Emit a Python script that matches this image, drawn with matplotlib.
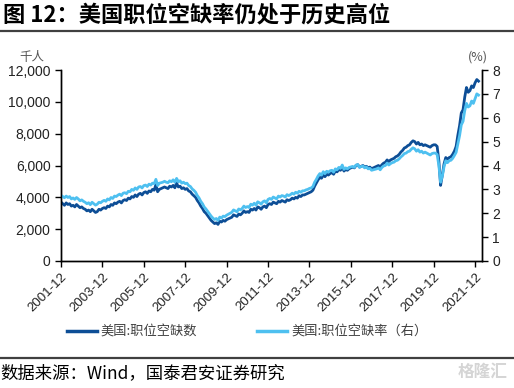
import numpy as np
import matplotlib
matplotlib.use("Agg")
import matplotlib.pyplot as plt

plt.rcParams['font.family'] = ['Liberation Sans', 'Noto Sans CJK SC', 'DejaVu Sans']
CJK = ['Noto Sans CJK SC', 'DejaVu Sans']

# monthly data, 2001-12 .. 2022-02
# job openings, thousands (left axis)
openings_by_year = {
    2001: [3700],
    2002: [3600, 3500, 3650, 3550, 3600, 3450, 3500, 3400, 3550, 3450, 3350, 3400],
    2003: [3300, 3250, 3150, 3200, 3100, 3250, 3150, 3050, 3100, 3250, 3200, 3300],
    2004: [3350, 3300, 3450, 3400, 3550, 3500, 3650, 3600, 3700, 3750, 3650, 3800],
    2005: [3850, 3800, 3950, 3900, 4050, 4000, 4150, 4050, 4200, 4250, 4150, 4300],
    2006: [4350, 4250, 4400, 4350, 4500, 4450, 4800, 4350, 4500, 4550, 4600, 4650],
    2007: [4600, 4550, 4700, 4650, 4750, 4600, 4900, 4650, 4700, 4550, 4600, 4500],
    2008: [4550, 4400, 4350, 4200, 4100, 4000, 3800, 3650, 3450, 3300, 3100, 3000],
    2009: [2850, 2700, 2550, 2450, 2350, 2400, 2300, 2500, 2450, 2550, 2500, 2600],
    2010: [2650, 2700, 2750, 2900, 2850, 2800, 2950, 2900, 3000, 3150, 3050, 3100],
    2011: [3050, 3250, 3200, 3300, 3200, 3400, 3350, 3250, 3400, 3450, 3350, 3550],
    2012: [3600, 3550, 3700, 3650, 3600, 3750, 3700, 3800, 3750, 3700, 3850, 3800],
    2013: [3850, 3950, 3900, 4000, 3950, 4100, 4050, 4150, 4150, 4200, 4250, 4300],
    2014: [4350, 4450, 4700, 4900, 5100, 5250, 5200, 5400, 5300, 5450, 5400, 5500],
    2015: [5550, 5450, 5650, 5600, 5750, 5700, 5900, 5650, 5750, 5700, 5800, 5850],
    2016: [5900, 5850, 6000, 6050, 5900, 5950, 6000, 5900, 5950, 5850, 5900, 5800],
    2017: [5850, 5900, 5950, 6000, 5900, 6050, 6150, 6200, 6350, 6250, 6350, 6400],
    2018: [6450, 6550, 6600, 6700, 6850, 6950, 7100, 7150, 7250, 7300, 7450, 7550],
    2019: [7500, 7350, 7450, 7300, 7350, 7250, 7300, 7250, 7200, 7150, 7250, 7300],
    2020: [7300, 7200, 6300, 4750, 5400, 6100, 6500, 6400, 6500, 6550, 6700, 6900],
    2021: [7200, 7900, 8500, 9300, 9500, 10300, 10900, 10600, 10700, 11000, 10900, 11200],
    2022: [11400, 11300],
}

# job openings rate, % (right axis)
rate_by_year = {
    2001: [2.75],
    2002: [2.70, 2.65, 2.72, 2.66, 2.70, 2.60, 2.64, 2.58, 2.66, 2.60, 2.52, 2.56],
    2003: [2.50, 2.46, 2.40, 2.44, 2.36, 2.46, 2.40, 2.34, 2.38, 2.46, 2.44, 2.50],
    2004: [2.54, 2.50, 2.60, 2.56, 2.66, 2.62, 2.72, 2.70, 2.76, 2.80, 2.74, 2.84],
    2005: [2.86, 2.82, 2.92, 2.90, 3.00, 2.96, 3.06, 3.00, 3.10, 3.12, 3.06, 3.16],
    2006: [3.18, 3.12, 3.22, 3.18, 3.26, 3.24, 3.42, 3.16, 3.26, 3.28, 3.30, 3.34],
    2007: [3.30, 3.28, 3.36, 3.32, 3.40, 3.30, 3.46, 3.32, 3.36, 3.26, 3.30, 3.24],
    2008: [3.26, 3.16, 3.12, 3.02, 2.96, 2.88, 2.74, 2.64, 2.50, 2.40, 2.26, 2.18],
    2009: [2.08, 1.98, 1.88, 1.80, 1.74, 1.78, 1.70, 1.84, 1.80, 1.88, 1.86, 1.92],
    2010: [1.96, 2.00, 2.04, 2.14, 2.10, 2.06, 2.18, 2.14, 2.20, 2.30, 2.24, 2.28],
    2011: [2.24, 2.38, 2.34, 2.42, 2.34, 2.48, 2.44, 2.38, 2.48, 2.52, 2.44, 2.58],
    2012: [2.62, 2.58, 2.68, 2.64, 2.60, 2.72, 2.68, 2.74, 2.72, 2.68, 2.78, 2.74],
    2013: [2.78, 2.84, 2.80, 2.88, 2.84, 2.92, 2.88, 2.94, 2.94, 2.98, 3.00, 3.04],
    2014: [3.06, 3.12, 3.30, 3.42, 3.56, 3.66, 3.60, 3.74, 3.66, 3.76, 3.72, 3.78],
    2015: [3.80, 3.72, 3.86, 3.82, 3.92, 3.88, 4.02, 3.84, 3.90, 3.86, 3.92, 3.94],
    2016: [3.96, 3.92, 4.02, 4.04, 3.92, 3.96, 3.98, 3.90, 3.94, 3.86, 3.88, 3.80],
    2017: [3.82, 3.84, 3.86, 3.90, 3.82, 3.92, 3.98, 4.00, 4.10, 4.02, 4.08, 4.12],
    2018: [4.14, 4.20, 4.22, 4.28, 4.36, 4.42, 4.50, 4.52, 4.58, 4.60, 4.68, 4.74],
    2019: [4.70, 4.60, 4.66, 4.56, 4.60, 4.52, 4.56, 4.52, 4.48, 4.44, 4.50, 4.52],
    2020: [4.52, 4.46, 4.00, 3.30, 3.55, 3.95, 4.20, 4.12, 4.20, 4.22, 4.30, 4.42],
    2021: [4.55, 4.90, 5.25, 5.70, 5.85, 6.30, 6.60, 6.45, 6.50, 6.70, 6.60, 6.80],
    2022: [7.00, 6.95],
}

xtick_labels = ["2001-12", "2003-12", "2005-12", "2007-12", "2009-12", "2011-12",
                "2013-12", "2015-12", "2017-12", "2019-12", "2021-12"]

openings = np.concatenate([openings_by_year[y] for y in sorted(openings_by_year)])
rate = np.concatenate([rate_by_year[y] for y in sorted(rate_by_year)])
months = np.arange(len(openings))

dark = '#0d4e96'
light = '#4ec0f0'

fig = plt.figure(figsize=(5.14, 3.88), dpi=100)
ax = fig.add_axes([61 / 514, 1 - 261 / 388, (482 - 61) / 514, (261 - 70) / 388])
ax2 = ax.twinx()

l1, = ax.plot(months, openings, color=dark, lw=2.0, label='美国:职位空缺数')
l2, = ax2.plot(months, rate, color=light, lw=2.0, label='美国:职位空缺率（右）')

ax.set_xlim(0, 244)
ax.set_ylim(0, 12000)
ax2.set_ylim(0, 8)
ax.set_yticks(np.arange(0, 12001, 2000))
ax.set_yticklabels([f'{v:,}' for v in range(0, 12001, 2000)])
ax2.set_yticks(range(0, 9))
ax.set_xticks(np.arange(0, 241, 24))
ax.set_xticklabels(xtick_labels, rotation=45, ha='right', rotation_mode='anchor')

for a in (ax, ax2):
    a.spines['top'].set_visible(False)
    for s in ('left', 'right', 'bottom'):
        a.spines[s].set_color('black')
        a.spines[s].set_linewidth(1.0)
    a.tick_params(direction='out', length=4, width=1, colors='black',
                  labelsize=10, labelcolor='#222222')
ax.tick_params(axis='x', labelsize=9.5, pad=3)

fig.text(32 / 514, 1 - 57 / 388, '千人', family=CJK, fontsize=9, color='#555555',
         ha='center', va='center')
fig.text(478 / 514, 1 - 57 / 388, '(%)', family=CJK, fontsize=9, color='#555555',
         ha='center', va='center')

fig.text(3 / 514, 1 - 15 / 388, '图 12：美国职位空缺率仍处于历史高位', family=CJK,
         fontsize=16, fontweight='bold', color='black', ha='left', va='center')
fig.add_artist(plt.Line2D([0, 1], [1 - 31 / 388, 1 - 31 / 388], color='#404040', lw=1.6,
                          transform=fig.transFigure))
fig.add_artist(plt.Line2D([0, 1], [1 - 358 / 388, 1 - 358 / 388], color='#404040', lw=1.6,
                          transform=fig.transFigure))

leg = fig.legend(handles=[l1, l2], loc='center', bbox_to_anchor=(247 / 514, 1 - 332 / 388),
                 ncol=2, frameon=False, handlelength=2.3, handletextpad=0.3,
                 columnspacing=4.5, prop={'family': CJK, 'size': 9.5})
for t in leg.get_texts():
    t.set_color('#404040')
for h in leg.legend_handles:
    h.set_linewidth(2.5)

fig.text(0, 1 - 373 / 388, '数据来源：Wind，国泰君安证券研究', family=CJK,
         fontsize=12.5, color='black', ha='left', va='center')
fig.text(508 / 514, 1 - 372 / 388, '格隆汇', family=CJK, fontsize=12, color='#d5d5d5',
         ha='right', va='center', fontweight='bold')

fig.savefig('out.png', dpi=100)
